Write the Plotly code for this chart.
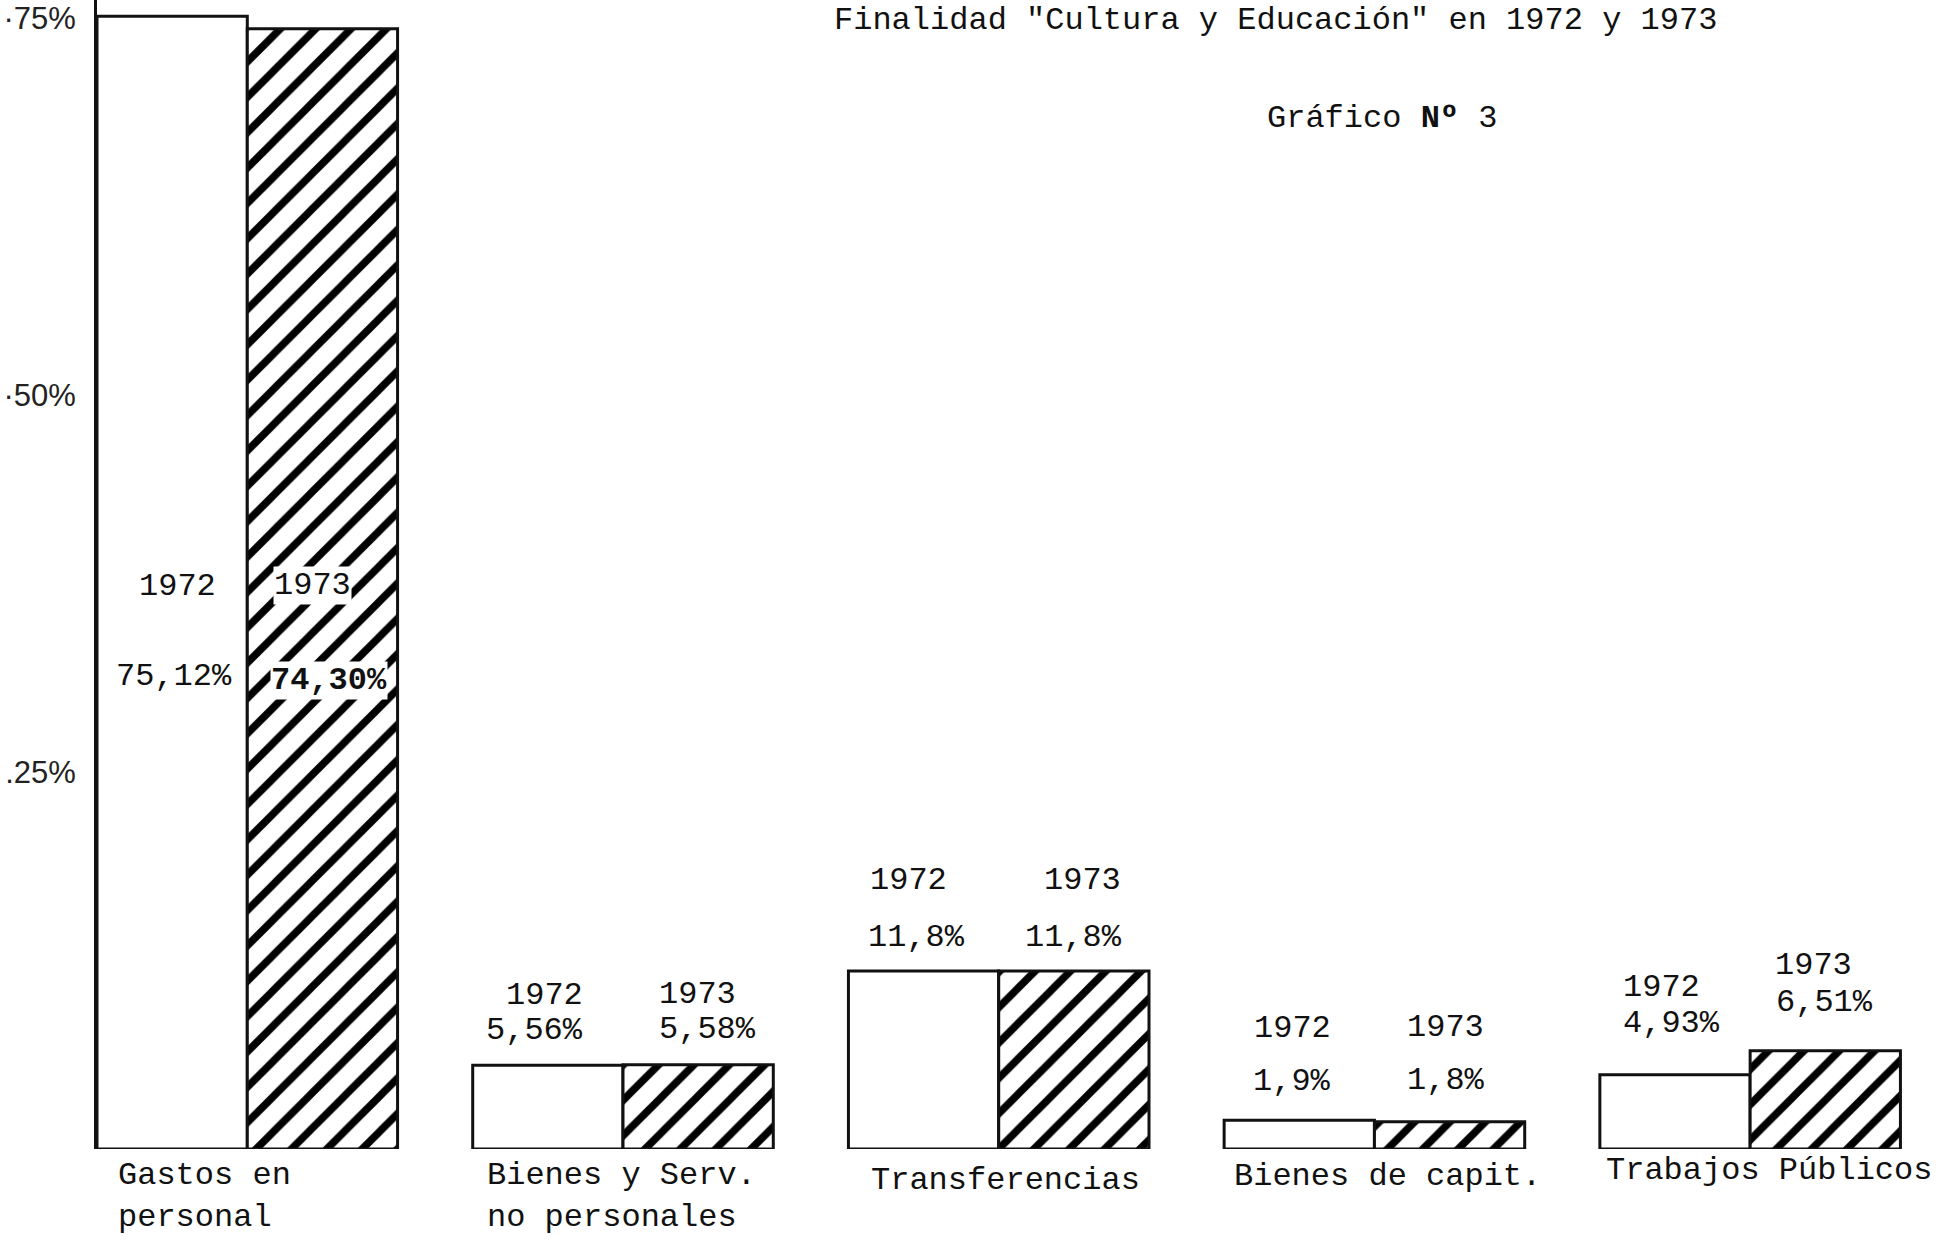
import plotly.graph_objects as go

# ---- data ----
categories = ["Gastos en personal", "Bienes y Serv. no personales", "Transferencias",
              "Bienes de capit.", "Trabajos Públicos"]
category_labels = ["Gastos en<br>personal", "Bienes y Serv.<br>no personales", "Transferencias",
                   "Bienes de capit.", "Trabajos Públicos"]
values_1972 = [75.12, 5.56, 11.8, 1.9, 4.93]
values_1973 = [74.30, 5.58, 11.8, 1.8, 6.51]
text_1972 = ["75,12%", "5,56%", "11,8%", "1,9%", "4,93%"]
text_1973 = ["74,30%", "5,58%", "11,8%", "1,8%", "6,51%"]
years = ["1972", "1973"]
y_tickvals = [25, 50, 75]
y_ticktext = [".25%", "·50%", "·75%"]
title_text = 'Finalidad "Cultura y Educación" en 1972 y 1973'
subtitle_text = "Gráfico <b>Nº</b> 3"

# ---- styling ----
MONO = "Liberation Mono, Courier New, monospace"
INK = "#111111"
FS = 32
W, H = 1941, 1240
BAR_HALF = 75  # half bar width in px

fig = go.Figure()
fig.add_trace(go.Bar(
    x=categories, y=values_1972, name=years[0],
    marker=dict(color="white", line=dict(color=INK, width=3)),
    offsetgroup="a",
))
fig.add_trace(go.Bar(
    x=categories, y=values_1973, name=years[1],
    marker=dict(color="white", line=dict(color=INK, width=3),
                pattern=dict(shape="/", fgcolor="#000000", fgopacity=1, bgcolor="white",
                             size=25, solidity=0.3)),
    offsetgroup="b",
))

ann = []
# label offsets (px) relative to each bar top
year_off = [[-570, 70, 91, 92, 87], [-557, 70, 91, 94, 85]]
val_off = [[-660, 35, 34, 39, 51], [-652, 35, 34, 41, 48]]
year_dx = [[5, -4, -15, -7, -14], [-10, -1, 9, -4, -12]]
val_dx = [[2, -14, -7, -7, -4], [7, 9, 0, -3, -1]]
for s, (vals, txts) in enumerate([(values_1972, text_1972), (values_1973, text_1973)]):
    side = -BAR_HALF if s == 0 else BAR_HALF
    for i, cat in enumerate(categories):
        inside = (i == 0 and s == 1)
        ann.append(dict(x=cat, y=vals[i], xref="x", yref="y", text=years[s], showarrow=False,
                        xshift=side + year_dx[s][i], yshift=year_off[s][i],
                        xanchor="center", yanchor="middle", borderpad=0,
                        bgcolor="white" if inside else None,
                        font=dict(family=MONO, size=FS, color=INK)))
        t = ("<b>%s</b>" % txts[i]) if inside else txts[i]
        ann.append(dict(x=cat, y=vals[i], xref="x", yref="y", text=t, showarrow=False,
                        xshift=side + val_dx[s][i], yshift=val_off[s][i],
                        xanchor="center", yanchor="middle", borderpad=0,
                        bgcolor="white" if inside else None,
                        font=dict(family=MONO, size=FS, color=INK)))

cat_dx = [-130, -137, -129, -141, -145]
cat_dy = [-7, -7, -12, -8, -2]
for i, cat in enumerate(categories):
    ann.append(dict(x=cat, y=0, xref="x", yref="y", text=category_labels[i], showarrow=False,
                    xanchor="left", yanchor="top", align="left", borderpad=0,
                    xshift=cat_dx[i], yshift=cat_dy[i],
                    font=dict(family=MONO, size=FS, color=INK)))

ann.append(dict(x=0.640, y=(1149 - 1) / 1149, xref="paper", yref="paper", text=title_text,
                showarrow=False, borderpad=0,
                xanchor="center", yanchor="top", font=dict(family=MONO, size=FS, color=INK)))
ann.append(dict(x=0.698, y=0.897, xref="paper", yref="paper", text=subtitle_text, showarrow=False,
                xanchor="center", yanchor="middle", font=dict(family=MONO, size=FS, color=INK)))

fig.update_layout(
    width=W, height=H,
    margin=dict(l=97, r=3, t=0, b=91),
    paper_bgcolor="white", plot_bgcolor="white",
    barmode="group", bargap=0.2, bargroupgap=0,
    showlegend=False,
    annotations=ann,
    xaxis=dict(range=[-0.4, 4.5], showticklabels=False, showgrid=False, zeroline=False,
               showline=False, ticks=""),
    yaxis=dict(range=[0, 76.2], tickvals=y_tickvals, ticktext=y_ticktext,
               showgrid=False, zeroline=False, showline=True, linecolor=INK, linewidth=3,
               ticks="", ticklabelstandoff=12, ticklabeloverflow="allow",
               tickfont=dict(family="Liberation Sans, Arial, sans-serif", size=31, color="#222222")),
)

fig.write_html("out.html", config={"displayModeBar": False},
               post_script="document.body.style.margin='0';document.body.style.overflow='hidden';")
